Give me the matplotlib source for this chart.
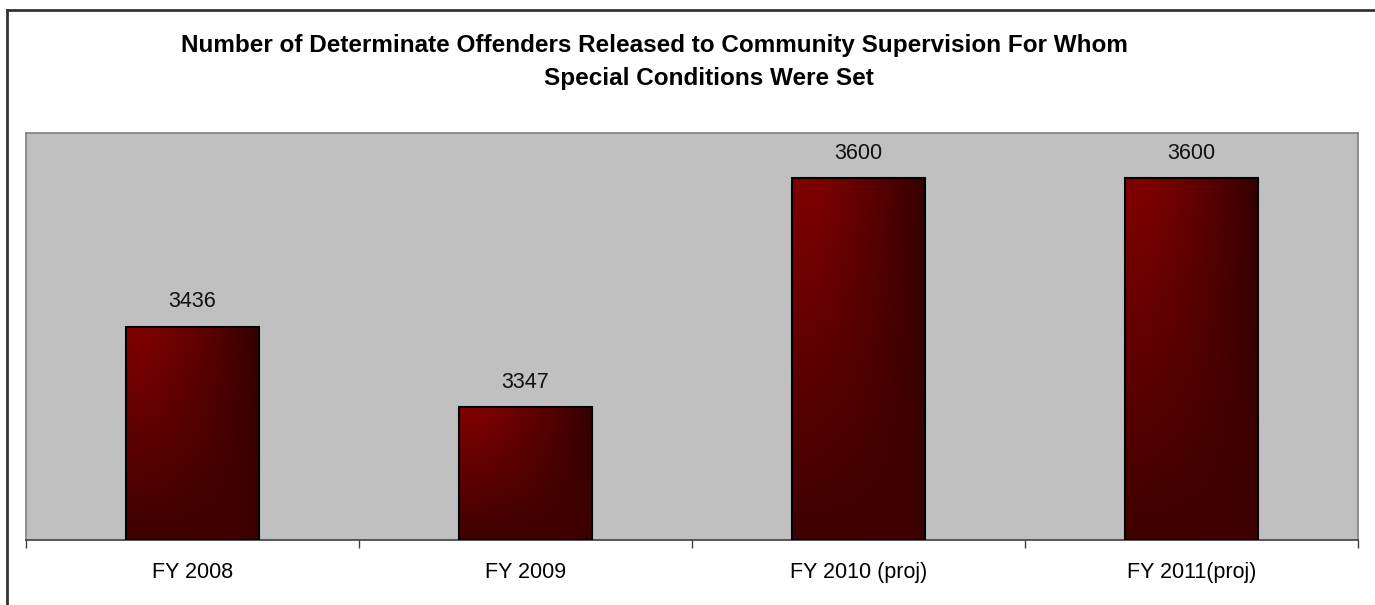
import numpy as np
import matplotlib.pyplot as plt
from matplotlib.lines import Line2D

categories = ["FY 2008", "FY 2009", "FY 2010 (proj)", "FY 2011(proj)"]
values = [3436, 3347, 3600, 3600]
title_lines = ["Number of Determinate Offenders Released to Community Supervision For Whom",
               "Special Conditions Were Set"]

plt.rcParams["font.family"] = ["Liberation Sans", "DejaVu Sans"]

W, H = 1375, 605
fig = plt.figure(figsize=(W / 100, H / 100), dpi=100)
fig.patch.set_facecolor("white")

ax = fig.add_axes([26 / W, 1 - 540 / H, 1332 / W, 407 / H])
ax.set_facecolor("#C0C0C0")

x = np.arange(len(categories))
ymin, ymax = 3200, 3650
bars = ax.bar(x, [v - ymin for v in values], bottom=ymin, width=0.4,
              facecolor="none", edgecolor="black", linewidth=1.5, zorder=3)

# two-way gradient: bright red top-left, dark right and bottom
nx, ny = 200, 200
s = np.linspace(0, 1, nx)
t = np.linspace(0, 1, ny)[:, None]
top = 128 - 77 * np.clip((s - 0.1) / 0.9, 0, 1) ** 1.3
red = (1 - t) * top[None, :] + t * 62
img = np.zeros((ny, nx, 3))
img[..., 0] = red / 255
for b in bars:
    im = ax.imshow(img, extent=(b.get_x(), b.get_x() + b.get_width(), ymin, b.get_y() + b.get_height()),
                   origin="upper", aspect="auto", zorder=2, interpolation="bilinear")
    im.set_clip_path(b)

for xi, v in zip(x, values):
    ax.annotate(str(v), (xi, v), xytext=(0, 14), textcoords="offset points",
                ha="center", va="baseline", fontsize=15.5, color="#111111")

ax.set_xlim(-0.5, len(categories) - 0.5)
ax.set_ylim(ymin, ymax)
ax.set_yticks([])
ax.set_xticks(x)
ax.set_xticklabels(categories, fontsize=15.5)
ax.tick_params(axis="x", which="major", length=0, pad=16)
ax.set_xticks(np.arange(len(categories) + 1) - 0.5, minor=True)
ax.tick_params(axis="x", which="minor", length=6, width=1, color="#404040")

for side in ["top", "left", "right"]:
    ax.spines[side].set_color("#808080")
    ax.spines[side].set_linewidth(1.2)
ax.spines["bottom"].set_color("#404040")
ax.spines["bottom"].set_linewidth(1.2)

fig.text(654 / W, 1 - 52 / H, title_lines[0], ha="center", va="baseline",
         fontsize=17.5, fontweight="bold")
fig.text(709 / W, 1 - 85 / H, title_lines[1], ha="center", va="baseline",
         fontsize=17.5, fontweight="bold")

# outer chart frame (top and left visible)
fig.add_artist(Line2D([7 / W, 7 / W], [0, 1 - 10 / H], transform=fig.transFigure,
                      color="#333333", linewidth=2))
fig.add_artist(Line2D([7 / W, 1], [1 - 10 / H, 1 - 10 / H], transform=fig.transFigure,
                      color="#333333", linewidth=2))

fig.savefig("out.png", dpi=100)
